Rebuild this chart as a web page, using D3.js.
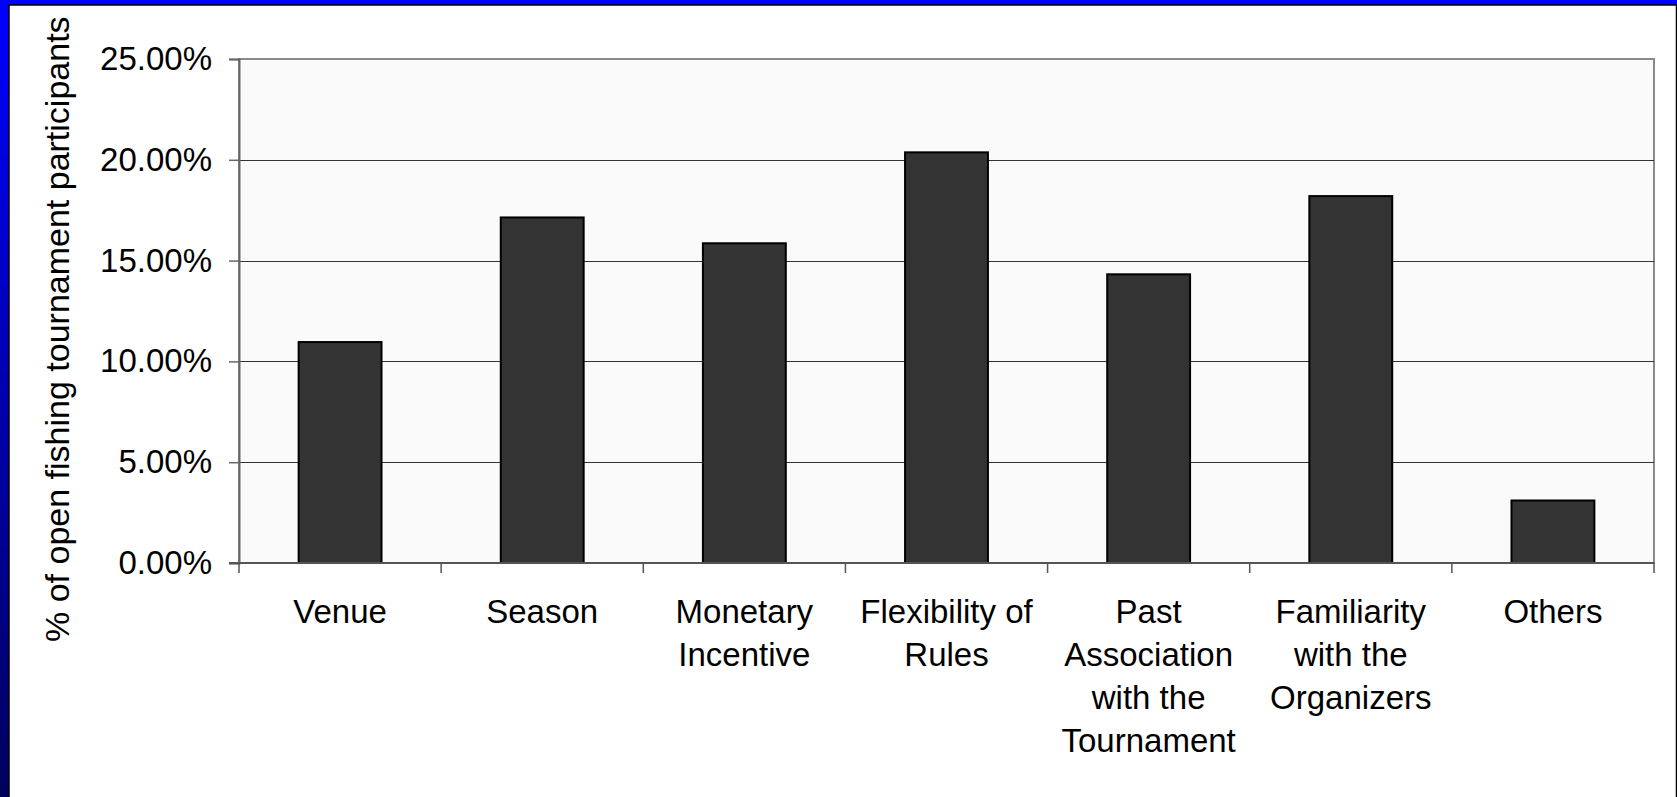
<!DOCTYPE html>
<html lang="en">
<head>
  <meta charset="UTF-8">
  <title>Tournament participation factors</title>
  <style>
    body, html { margin: 0; padding: 0; overflow: hidden; }
    text { font-family: Arial, "Liberation Sans", sans-serif; fill: #000; }
  </style>
</head>
<body>
  <svg id="svg" width="1677" height="797"></svg>

  <script src="https://d3js.org/d3.v7.min.js"></script>
  <script>
    // data
    const categories = ['Venue', 'Season', 'Monetary\nIncentive', 'Flexibility of\nRules',
      'Past\nAssociation\nwith the\nTournament', 'Familiarity\nwith the\nOrganizers', 'Others']
    const shares = [0.1096, 0.1714, 0.1586, 0.2037, 0.1432, 0.1820, 0.0310]
    const yTicks = [0, 0.05, 0.10, 0.15, 0.20, 0.25]
    const yTitle = '% of open fishing tournament participants'

    const svg = d3.select('#svg')
    const plot = { left: 239, right: 1654, top: 59, bottom: 563 }

    // blue slide background with a darkening left edge
    const defs = svg.append('defs')
    const grad = defs.append('linearGradient')
      .attr('id', 'bg').attr('x1', 0).attr('y1', 0).attr('x2', 0).attr('y2', 1)
    grad.append('stop').attr('offset', '0%').attr('stop-color', '#0000ff')
    grad.append('stop').attr('offset', '100%').attr('stop-color', '#00005e')
    defs.append('clipPath').attr('id', 'panel')
      .append('rect').attr('x', 9).attr('y', 5).attr('width', 1670).attr('height', 800)

    svg.append('rect').attr('width', 1677).attr('height', 797).attr('fill', 'url(#bg)')
    svg.append('rect')
      .attr('x', 9).attr('y', 5).attr('width', 1667.5).attr('height', 800)
      .attr('fill', '#fff').attr('stroke', '#000').attr('stroke-width', 1.5)

    const g = svg.append('g').attr('clip-path', 'url(#panel)')

    // scales
    const y = d3.scaleLinear().domain([0, 0.25]).range([plot.bottom, plot.top])
    const xCat = d3.scaleBand().domain(categories).range([plot.left, plot.right])
    const x = d3.scaleBand().domain(categories).range([plot.left, plot.right])
      .paddingInner(0.59).paddingOuter(0.295)

    // plot area
    g.append('rect')
      .attr('x', plot.left).attr('y', plot.top)
      .attr('width', plot.right - plot.left).attr('height', plot.bottom - plot.top)
      .attr('fill', '#fafafa').attr('stroke', '#8a8a8a').attr('stroke-width', 2)

    // gridlines
    g.append('g').selectAll('line')
      .data(yTicks.filter(d => d > 0 && d < 0.25))
      .join('line')
      .attr('x1', plot.left).attr('x2', plot.right)
      .attr('y1', d => Math.round(y(d)) + 0.5).attr('y2', d => Math.round(y(d)) + 0.5)
      .attr('stroke', '#333').attr('stroke-width', 1)

    // bars
    g.append('g').selectAll('rect')
      .data(categories)
      .join('rect')
      .attr('x', d => x(d))
      .attr('y', (d, i) => y(shares[i]))
      .attr('width', x.bandwidth())
      .attr('height', (d, i) => y(0) - y(shares[i]))
      .attr('fill', '#333333').attr('stroke', '#000').attr('stroke-width', 2)

    // y axis
    const yAxis = g.append('g')
      .attr('transform', `translate(${plot.left},0)`)
      .call(d3.axisLeft(y).tickValues(yTicks).tickFormat(d3.format('.2%')).tickSize(10).tickPadding(17))
    yAxis.select('.domain').attr('stroke', '#666').attr('stroke-width', 2)
    yAxis.selectAll('.tick line').attr('stroke', '#666').attr('stroke-width', 1.5)
    yAxis.selectAll('.tick text').style('font-size', '33px').attr('fill', '#000')

    // x axis line + tick marks on category boundaries
    g.append('line')
      .attr('x1', plot.left - 10).attr('x2', plot.right)
      .attr('y1', plot.bottom).attr('y2', plot.bottom)
      .attr('stroke', '#555').attr('stroke-width', 2)
    const bounds = categories.map(d => xCat(d)).concat([plot.right])
    g.append('g').selectAll('line')
      .data(bounds)
      .join('line')
      .attr('x1', d => d).attr('x2', d => d)
      .attr('y1', plot.bottom).attr('y2', plot.bottom + 10)
      .attr('stroke', '#555').attr('stroke-width', 1.5)

    // category labels
    g.append('g').selectAll('text')
      .data(categories)
      .join('text')
      .attr('x', d => xCat(d) + xCat.bandwidth() / 2)
      .attr('y', 623)
      .attr('text-anchor', 'middle')
      .style('font-size', '33px')
      .each(function (d) {
        const lines = d.split('\n')
        d3.select(this).selectAll('tspan')
          .data(lines)
          .join('tspan')
          .attr('x', xCat(d) + xCat.bandwidth() / 2)
          .attr('dy', (l, i) => i === 0 ? 0 : 43)
          .text(l => l)
      })

    // y title, runs up from below the plot (long enough to touch the top edge)
    g.append('text')
      .attr('transform', 'translate(69,642) rotate(-90)')
      .attr('text-anchor', 'start')
      .style('font-size', '34px')
      .text(yTitle)
  </script>
</body>
</html>
